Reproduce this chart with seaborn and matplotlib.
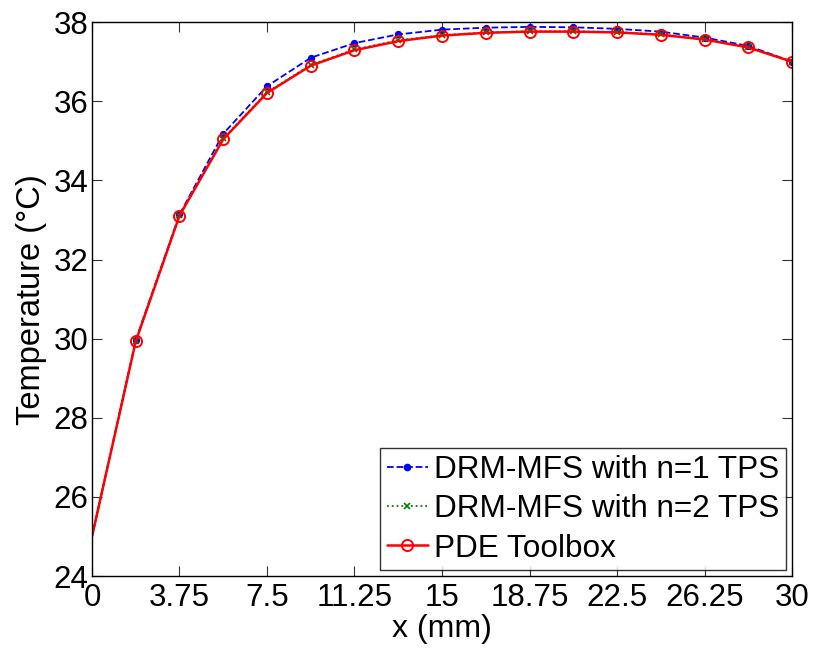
import numpy as np
import matplotlib
matplotlib.use("Agg")
import matplotlib.pyplot as plt
from matplotlib.lines import Line2D
import seaborn as sns

# data
x_mm = [0, 1.875, 3.75, 5.625, 7.5, 9.375, 11.25, 13.125, 15,
        16.875, 18.75, 20.625, 22.5, 24.375, 26.25, 28.125, 30]
t_n1 = [25.0, 29.96, 33.14, 35.18, 36.38, 37.10, 37.47, 37.69, 37.81,
        37.86, 37.88, 37.87, 37.83, 37.76, 37.61, 37.40, 37.0]
t_n2 = [25.0, 29.94, 33.12, 35.06, 36.23, 36.92, 37.31, 37.54, 37.67,
        37.74, 37.77, 37.77, 37.75, 37.69, 37.57, 37.36, 37.0]
t_pde = [25.0, 29.93, 33.11, 35.04, 36.21, 36.90, 37.29, 37.52, 37.66,
         37.73, 37.76, 37.76, 37.74, 37.68, 37.56, 37.36, 37.0]
labels = ["DRM-MFS with n=1 TPS", "DRM-MFS with n=2 TPS", "PDE Toolbox"]
x_ticks = [0, 3.75, 7.5, 11.25, 15, 18.75, 22.5, 26.25, 30]
x_tick_labels = ["0", "3.75", "7.5", "11.25", "15", "18.75", "22.5", "26.25", "30"]

sns.set_style("white")
plt.rcParams['font.family'] = ['Liberation Sans', 'DejaVu Sans']
plt.rcParams['text.color'] = 'black'
plt.rcParams['axes.labelcolor'] = 'black'

fig, ax = plt.subplots(figsize=(8.14, 6.51), dpi=100)

# line styles per series
styles = [
    dict(color='blue', linestyle='--', lw=1.3, marker='.', markersize=9,
         markeredgecolor='blue', markerfacecolor='blue'),
    dict(color='green', linestyle=':', lw=1.3, marker='x', markersize=5,
         markeredgewidth=1.2, markeredgecolor='green'),
    dict(color='red', linestyle='-', lw=1.8, marker='o', markersize=8,
         markerfacecolor='none', markeredgecolor='red', markeredgewidth=1.4),
]

# no marker at the boundary point x=0
for ys, st in zip([t_n1, t_n2, t_pde], styles):
    sns.lineplot(x=x_mm, y=ys, ax=ax, markevery=list(range(1, len(x_mm))),
                 legend=False, **st)

ax.set_xlim(0, 30)
ax.set_ylim(24, 38)
ax.set_xticks(x_ticks)
ax.set_xticklabels(x_tick_labels)
ax.set_yticks(np.arange(24, 39, 2))
ax.tick_params(direction='in', length=7, width=0.8, labelsize=22.5,
               top=True, right=True, bottom=True, left=True, colors='#333333',
               labelcolor='black')
ax.tick_params(axis='x', pad=5)
ax.tick_params(axis='y', pad=2.5)
for s in ax.spines.values():
    s.set_color('black')
    s.set_linewidth(1.0)
    s.set_visible(True)

ax.set_xlabel("x (mm)", fontsize=23, labelpad=1)
ax.set_ylabel("Temperature (°C)", fontsize=23.5, labelpad=5)

handles = [Line2D([], [], **st) for st in styles]
leg = ax.legend(handles, labels, loc='lower right', fontsize=22.7, frameon=True,
                fancybox=False, edgecolor='black', handlelength=1.3,
                handletextpad=0.2, borderpad=0.2, labelspacing=0.3,
                borderaxespad=0.2)
leg.get_frame().set_linewidth(1.0)
for t in leg.get_texts():
    t.set_color('black')

fig.subplots_adjust(left=0.113, right=0.973, top=0.966, bottom=0.115)
fig.savefig("out.png", dpi=100)
